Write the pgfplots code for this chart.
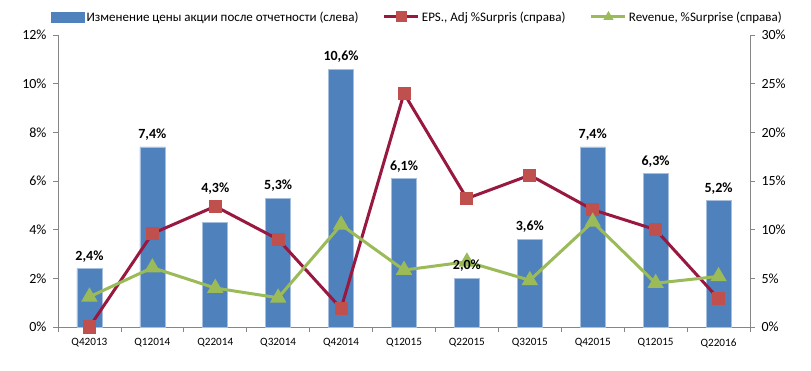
\documentclass[border=0pt]{standalone}
\usepackage{pgfplots}
\pgfplotsset{compat=1.18}
\usepackage{fontspec}
\setmainfont{Carlito}
\definecolor{barblue}{HTML}{4F81BD}
\definecolor{baredge}{HTML}{A7BFDE}
\definecolor{linered}{HTML}{98183F}
\definecolor{markred}{HTML}{C0504D}
\definecolor{linegreen}{HTML}{9BBB59}
\definecolor{axgray}{HTML}{868686}
\pgfplotsset{
  redleg/.style={legend image code/.code={\draw[##1, mark size=4bp, mark repeat=2, mark phase=2] plot coordinates {(0bp,0bp) (17bp,0bp) (34bp,0bp)};}},
  greenleg/.style={legend image code/.code={\draw[##1, mark size=3bp, mark repeat=2, mark phase=2] plot coordinates {(0bp,0bp) (17bp,0bp) (34bp,0bp)};}},
  barleg/.style={legend image code/.code={\fill[barblue] (0bp,-5bp) rectangle (33bp,5bp);}},
  common/.style={at={(0,0)}, anchor=south west, scale only axis, width=692bp, height=292bp,
    xmin=-0.5, xmax=10.5, clip=false},
}
\pgfplotstableread{
x bar eps rev
0 2.4 0 3.1
1 7.4 9.6 6.1
2 4.3 12.4 4.0
3 5.3 9.0 3.0
4 10.6 1.9 10.5
5 6.1 24.0 5.85
6 2.0 13.2 6.7
7 3.6 15.6 4.8
8 7.4 12.05 10.8
9 6.3 10.0 4.5
10 5.2 2.9 5.2
}\datatable
\begin{document}
\begin{tikzpicture}
\path[use as bounding box] (-58bp,-44bp) rectangle (753bp,327bp);
\begin{axis}[common, ymin=0, ymax=12,
  axis x line*=bottom, axis y line*=left,
  axis line style={draw=axgray, line width=0.8bp},
  tick style={draw=axgray, line width=0.8bp},
  tick align=outside, major tick length=5bp,
  xtick={-0.5,0.5,...,10.5},
  x tick label as interval,
  xticklabels={Q42013,Q12014,Q22014,Q32014,Q42014,Q12015,Q22015,Q32015,Q42015,Q12015,Q22016},
  x tick label style={font=\fontsize{11.2bp}{13bp}\selectfont, yshift=-3bp},
  ytick={0,2,4,6,8,10,12},
  yticklabels={0\%,2\%,4\%,6\%,8\%,10\%,12\%},
  y tick label style={font=\fontsize{14bp}{16bp}\selectfont, xshift=-3bp},
]
\addplot[ybar, bar width=25bp, fill=barblue, draw=baredge, line width=0.6bp]
  table[x=x, y=bar] {\datatable};
\end{axis}
\begin{axis}[common, ymin=0, ymax=30,
  axis x line=none, axis y line*=right,
  axis line style={draw=axgray, line width=0.8bp},
  tick style={draw=axgray, line width=0.8bp},
  tick align=outside, major tick length=5bp,
  ytick={0,5,10,15,20,25,30},
  yticklabels={0\%,5\%,10\%,15\%,20\%,25\%,30\%},
  y tick label style={font=\fontsize{14bp}{16bp}\selectfont, xshift=3bp},
  legend columns=3,
  legend style={at={(0.5,1)}, anchor=center, yshift=18bp, xshift=13.5bp, draw=none, fill=none,
    font=\fontsize{13bp}{15bp}\selectfont,
    /tikz/every even column/.append style={column sep=22.5bp}},
]
\addlegendimage{barleg}
\addlegendentry{Изменение цены акции после отчетности (слева)}
\addplot[linered, line width=3bp, mark=square*, mark size=5bp,
  mark options={fill=markred, draw=markred, solid}, redleg]
  table[x=x, y=eps] {\datatable};
\addlegendentry{EPS., Adj \%Surpris (справа)}
\addplot[linegreen, line width=3bp, mark=triangle*, mark size=6.5bp,
  mark options={fill=linegreen, draw=linegreen, solid}, greenleg]
  table[x=x, y=rev] {\datatable};
\addlegendentry{Revenue, \%Surprise (справа)}
\end{axis}
\begin{axis}[common, ymin=0, ymax=12, hide axis]
\addplot[draw=none, mark=none,
  nodes near coords={\pgfmathprintnumber[fixed,fixed zerofill,precision=1,use comma,assume math mode=true]{\pgfplotspointmeta}\%},
  nodes near coords style={font=\bfseries\fontsize{14bp}{16bp}\selectfont, text=black, anchor=south, yshift=3bp},
  coordinate style/.condition={x==2}{yshift=21bp},
  point meta=y]
  table[x=x, y=bar] {\datatable};
\end{axis}
\end{tikzpicture}
\end{document}
